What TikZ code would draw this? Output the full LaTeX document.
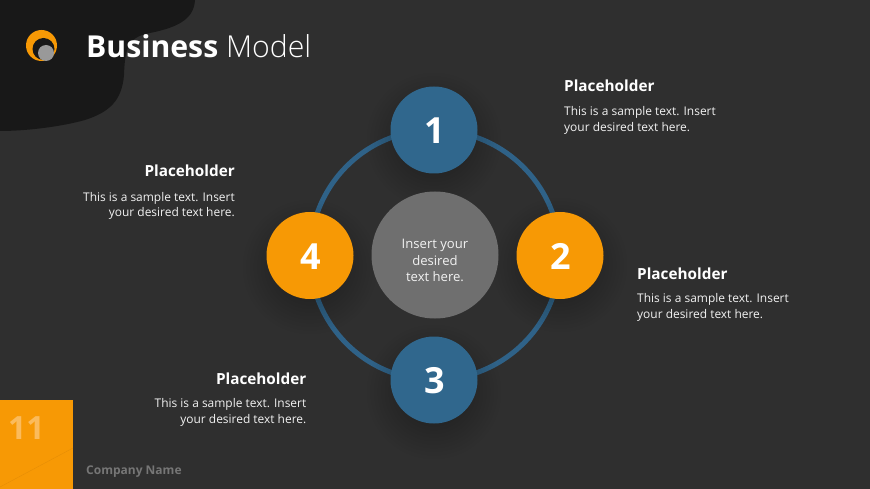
\documentclass[tikz,border=0pt]{standalone}
\usepackage{fontspec}
\setmainfont{Open Sans}
\usetikzlibrary{backgrounds}
\pgfdeclarelayer{shadowlayer}
\pgfsetlayers{background,shadowlayer,main}
\definecolor{bgc}{HTML}{2F2F2F}
\definecolor{blobc}{HTML}{181818}
\definecolor{ringc}{HTML}{2F6288}
\definecolor{bluec}{HTML}{30678D}
\definecolor{orangec}{HTML}{F79905}
\definecolor{grayc}{HTML}{6F6F6F}
\definecolor{txtc}{HTML}{F2F2F2}
\definecolor{numc}{HTML}{FBBB5C}
\definecolor{compc}{HTML}{767676}
\tikzset{
  numnode/.style={circle,minimum size=87pt,inner sep=0pt},
  numtext/.style={text=white,inner sep=0pt,xshift=0.5pt,yshift=-1pt,font=\bfseries\fontsize{36}{36}\selectfont},
  bluenode/.style={numnode,fill=bluec},
  orangenode/.style={numnode,fill=orangec},
  centernode/.style={circle,minimum size=127pt,inner sep=0pt,fill=grayc},
  centertext/.style={text=txtc,align=center,inner sep=0pt,yshift=-5.5pt,font=\fontsize{13.1}{16.7}\selectfont},
  ringline/.style={draw=ringc,line width=5pt},
  headtext/.style={text=white,inner sep=0pt,font=\bfseries\fontsize{15.3}{16}\selectfont},
  bodyr/.style={text=txtc,inner sep=0pt,align=right,anchor=north east,font=\fontsize{11.95}{15.7}\selectfont},
  bodyl/.style={text=txtc,inner sep=0pt,align=left,anchor=north west,font=\fontsize{11.95}{15.7}\selectfont},
}
\newcommand{\softshadow}[3]{%
  \foreach \k in {0,...,11}{
    \fill[black,opacity=0.02] (#1,#2) circle ({#3+24-3.6*\k});
  }}
\begin{document}
\begin{tikzpicture}[x=1pt,y=-1pt]
\useasboundingbox (0,0) rectangle (870,489);
\begin{pgfonlayer}{background}
  \fill[bgc] (0,0) rectangle (870,489);
  \fill[blobc] (0,0) -- (195,0) .. controls (194,18) and (180,27) .. (150,33)
     .. controls (127,37) and (125,50) .. (124,75)
     .. controls (122,100) and (110,112) .. (85,120)
     .. controls (60,127) and (25,131) .. (0,131) -- cycle;
\end{pgfonlayer}
% logo
\fill[orangec] (41.5,45.5) circle (15.5);
\fill[blobc] (43.5,49) circle (11);
\fill[gray!80!white] (46,53) circle (8);
% title
\node[anchor=base west,inner sep=0pt,text=white,font=\fontsize{30.2}{32}\selectfont] (title) at (86,58) {\textbf{Business} \fontspec{Open Sans Light}Model};
% main nodes
\node[bluenode,label={[numtext]center:1}] (n1) at (434,130) {};
\node[orangenode,label={[numtext]center:2}] (n2) at (560,255.5) {};
\node[bluenode,label={[numtext]center:3}] (n3) at (434,380) {};
\node[orangenode,label={[numtext]center:4}] (n4) at (310,255.5) {};
\node[centernode,label={[centertext]center:{Insert your\\desired\\text here.}}] (c) at (435,255) {};
\begin{pgfonlayer}{shadowlayer}
  \draw[ringline] (n1.center) to[out=0,in=90] (n2.center);
  \draw[ringline] (n2.center) to[out=-90,in=0] (n3.center);
  \draw[ringline] (n3.center) to[out=180,in=-90] (n4.center);
  \draw[ringline] (n4.center) to[out=90,in=180] (n1.center);
  \softshadow{434}{140}{43}
  \softshadow{560}{265}{43}
  \softshadow{434}{392}{43}
  \softshadow{310}{267}{43}
\end{pgfonlayer}
% text blocks
\node[headtext,anchor=base west] (h1) at (564,92) {Placeholder};
\node[bodyl] (b1) at (564,106.5) {This is a sample text. Insert\\your desired text here.};
\node[headtext,anchor=base west] (h2) at (637,279) {Placeholder};
\node[bodyl] (b2) at (637,293.5) {This is a sample text. Insert\\your desired text here.};
\node[headtext,anchor=base east] (h3) at (306.5,384.5) {Placeholder};
\node[bodyr] (b3) at (306.5,398.5) {This is a sample text. Insert\\your desired text here.};
\node[headtext,anchor=base east] (h4) at (235,177) {Placeholder};
\node[bodyr] (b4) at (235,192) {This is a sample text. Insert\\your desired text here.};
% footer
\fill[orangec] (0,400) rectangle (73,489);
\draw[orangec!93!black,line width=0.4pt] (0,487) -- (73,448);
\node[anchor=base west,inner sep=0pt,text=numc,font=\bfseries\fontsize{32}{32}\selectfont] (pg) at (8,439) {11};
\node[anchor=base west,inner sep=0pt,text=compc,font=\bfseries\fontsize{12}{12}\selectfont] (co) at (86,474) {Company Name};
\end{tikzpicture}
\end{document}
